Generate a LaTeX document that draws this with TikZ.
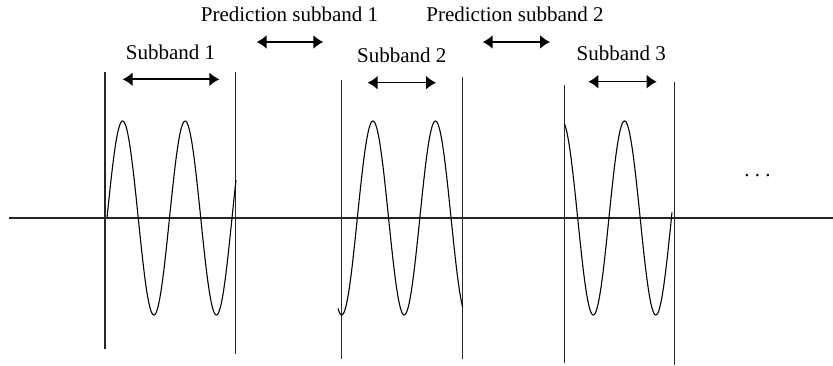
\documentclass[tikz,border=0pt]{standalone}
\usepackage{fontspec}
\setmainfont{Liberation Serif}
\usetikzlibrary{arrows.meta, positioning}

\begin{document}
\begin{tikzpicture}[x=1pt, y=-1pt,
        label/.style={inner sep=0pt, font={\fontsize{21}{24}\selectfont}},
        edge/.style={line width=1.3pt, black!85},
        axis/.style={line width=1.2pt, black!85},
        wave/.style={line width=1.1pt, black},
        span/.style={line width=1.6pt, {Latex[length=10pt, width=14pt]}-{Latex[length=10pt, width=14pt]}}
    ]
        \useasboundingbox (0,0) rectangle (833,366);

        % Axis
        \coordinate (ax0) at (9,218);
        \coordinate (ax1) at (833,218);
        \draw [axis] (ax0) -- (ax1);

        % Band edges
        \coordinate (b1lt) at (105,72);    \coordinate (b1lb) at (105,349);
        \coordinate (b1rt) at (235.7,72);  \coordinate (b1rb) at (235.7,354);
        \coordinate (b2lt) at (341.7,80);  \coordinate (b2lb) at (341.7,359);
        \coordinate (b2rt) at (462.7,77);  \coordinate (b2rb) at (462.7,359);
        \coordinate (b3lt) at (564.3,85);  \coordinate (b3lb) at (564.3,363);
        \coordinate (b3rt) at (674.5,82);  \coordinate (b3rb) at (674.5,365);
        \draw [edge] (b1lt) -- (b1lb);
        \draw [edge] (b1rt) -- (b1rb);
        \draw [edge] (b2lt) -- (b2lb);
        \draw [edge] (b2rt) -- (b2rb);
        \draw [edge] (b3lt) -- (b3lb);
        \draw [edge] (b3rt) -- (b3rb);

        % Waves (period 62.5, so 5.76 deg per unit)
        \draw [wave] plot[domain=107:236, samples=200] (\x, {218-97*sin(5.76*(\x-107))});
        \draw [wave] plot[domain=338:462.7, samples=200] (\x, {218+97*cos(5.76*(\x-341.7))});
        \draw [wave] plot[domain=564.3:672, samples=200] (\x, {218+97*cos(5.76*(\x-593.3))});

        % Labels
        \node (sub1) [label] at (170.5,52) {Subband 1};
        \node (sub2) [label] at (401.7,55) {Subband 2};
        \node (sub3) [label] at (621.3,53.3) {Subband 3};
        \node (pred1) [label] at (289.5,14) {Prediction subband 1};
        \node (pred2) [label] at (515,14) {Prediction subband 2};
        \node (more) [label] at (757.5,176) {.\ .\ .};

        % Spans
        \coordinate (s1a) at (122.7,79.3);  \coordinate (s1b) at (219.3,79.3);
        \coordinate (p1a) at (256.7,42);    \coordinate (p1b) at (323.3,42);
        \coordinate (s2a) at (367.7,82.7);  \coordinate (s2b) at (436,82.7);
        \coordinate (p2a) at (482.7,42);    \coordinate (p2b) at (550,42);
        \coordinate (s3a) at (588.3,81.7);  \coordinate (s3b) at (656.7,81.7);
        \draw [span] (s1a) -- (s1b);
        \draw [span] (p1a) -- (p1b);
        \draw [span] (s2a) -- (s2b);
        \draw [span] (p2a) -- (p2b);
        \draw [span] (s3a) -- (s3b);
    \end{tikzpicture}
\end{document}
